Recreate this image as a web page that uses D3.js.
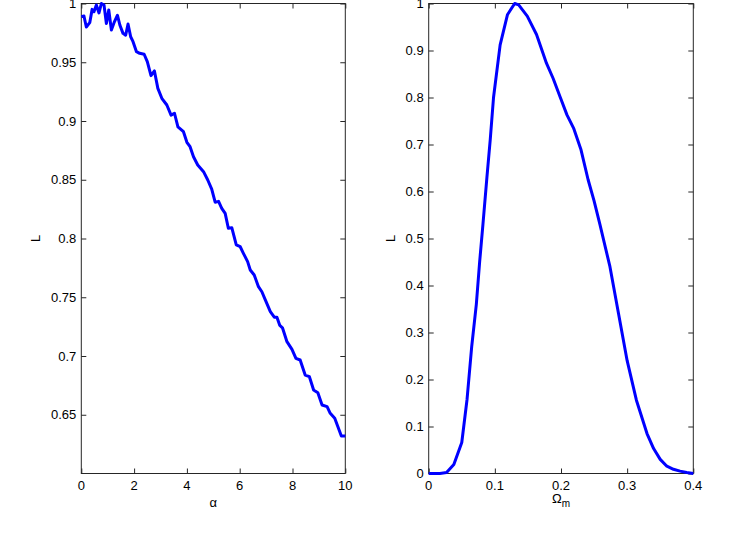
<!DOCTYPE html>
<html>
<head>
<meta charset="utf-8">
<script src="https://cdn.jsdelivr.net/npm/d3@7"></script>
<style>
  body { margin: 0; background: #fff; }
  text { font-family: "Liberation Sans", Arial, sans-serif; }
</style>
</head>
<body>
<div id="chart"></div>
<script>
var width = 748,
    height = 548;

// left panel: L vs alpha
var alphaVals = [0, 0.1, 0.19, 0.32, 0.41, 0.48, 0.57, 0.67, 0.76, 0.86,
  0.95, 1.04, 1.14, 1.24, 1.37, 1.46, 1.58, 1.68, 1.77, 1.87,
  1.96, 2.09, 2.21, 2.38, 2.5, 2.64, 2.77, 2.9, 3.05, 3.24,
  3.4, 3.53, 3.66, 3.87, 4.0, 4.12, 4.25, 4.41, 4.63, 4.79,
  4.94, 5.07, 5.2, 5.32, 5.45, 5.57, 5.7, 5.87, 6.02, 6.14,
  6.3, 6.4, 6.55, 6.71, 6.84, 6.97, 7.16, 7.31, 7.41, 7.52,
  7.62, 7.79, 7.98, 8.13, 8.29, 8.48, 8.64, 8.8, 8.96, 9.12,
  9.31, 9.43, 9.6, 9.72, 9.85, 10];
var alphaL = [0.9888, 0.9894, 0.980, 0.9837, 0.995, 0.993, 0.9987, 0.992, 1.0, 0.9987,
  0.983, 0.9945, 0.9775, 0.9837, 0.990, 0.9817, 0.9746, 0.973, 0.9826, 0.9717,
  0.9675, 0.959, 0.9576, 0.9568, 0.9505, 0.9386, 0.9426, 0.9278, 0.9193, 0.9136,
  0.905, 0.9066, 0.8951, 0.8909, 0.8819, 0.8781, 0.8696, 0.8626, 0.8569, 0.8498,
  0.8420, 0.8309, 0.8316, 0.8257, 0.8214, 0.8087, 0.8092, 0.7945, 0.7930, 0.7874,
  0.7803, 0.7732, 0.7689, 0.759, 0.7547, 0.7477, 0.7377, 0.733, 0.733, 0.7260,
  0.7240, 0.7122, 0.7057, 0.698, 0.6966, 0.6838, 0.6824, 0.6711, 0.6688, 0.6583,
  0.6569, 0.6512, 0.647, 0.6398, 0.6319, 0.6319];
var alphaTicks = [0, 2, 4, 6, 8, 10];
var alphaLTicks = [0.65, 0.7, 0.75, 0.8, 0.85, 0.9, 0.95, 1];

// right panel: L vs Omega_m
var omegaVals = [0, 0.017, 0.027, 0.038, 0.050, 0.058, 0.065, 0.072, 0.077, 0.082,
  0.088, 0.093, 0.098, 0.108, 0.119, 0.130, 0.136, 0.149, 0.163, 0.178,
  0.188, 0.199, 0.209, 0.219, 0.230, 0.241, 0.250, 0.259, 0.274, 0.287,
  0.300, 0.314, 0.330, 0.340, 0.350, 0.360, 0.370, 0.380, 0.390, 0.400];
var omegaL = [0, 0, 0.002, 0.019, 0.066, 0.158, 0.27, 0.36, 0.45, 0.53,
  0.63, 0.71, 0.80, 0.912, 0.976, 1.0, 0.997, 0.973, 0.934, 0.873,
  0.841, 0.80, 0.763, 0.735, 0.69, 0.625, 0.58, 0.529, 0.44, 0.34,
  0.24, 0.156, 0.085, 0.053, 0.03, 0.0155, 0.009, 0.005, 0.002, 0];
var omegaTicks = [0, 0.1, 0.2, 0.3, 0.4];
var omegaLTicks = [0, 0.1, 0.2, 0.3, 0.4, 0.5, 0.6, 0.7, 0.8, 0.9, 1];

var svg = d3.select("#chart").append("svg")
    .attr("width", width)
    .attr("height", height);

var tickLen = 5;

function drawPanel(opts) {
  var x = d3.scaleLinear().domain(opts.xDomain).range([opts.left, opts.right]);
  var y = d3.scaleLinear().domain(opts.yDomain).range([opts.bottom, opts.top]);
  var g = svg.append("g");

  g.append("rect")
      .attr("x", opts.left).attr("y", opts.top)
      .attr("width", opts.right - opts.left)
      .attr("height", opts.bottom - opts.top)
      .attr("fill", "none")
      .attr("stroke", "#262626")
      .attr("stroke-width", 1);

  // inward ticks on all four sides (matlab box style)
  var bottomAx = g.append("g")
      .attr("transform", "translate(0," + opts.bottom + ")")
      .call(d3.axisTop(x).tickValues(opts.xTicks).tickSize(tickLen).tickSizeOuter(0).tickFormat(""));
  var topAx = g.append("g")
      .attr("transform", "translate(0," + opts.top + ")")
      .call(d3.axisBottom(x).tickValues(opts.xTicks).tickSize(tickLen).tickSizeOuter(0).tickFormat(""));
  var leftAx = g.append("g")
      .attr("transform", "translate(" + opts.left + ",0)")
      .call(d3.axisRight(y).tickValues(opts.yTicks).tickSize(tickLen).tickSizeOuter(0).tickFormat(""));
  var rightAx = g.append("g")
      .attr("transform", "translate(" + opts.right + ",0)")
      .call(d3.axisLeft(y).tickValues(opts.yTicks).tickSize(tickLen).tickSizeOuter(0).tickFormat(""));
  [bottomAx, topAx, leftAx, rightAx].forEach(function(a) {
    a.select(".domain").remove();
    a.selectAll("line").attr("stroke", "#262626");
  });

  g.selectAll(".xlab")
      .data(opts.xTicks)
      .enter().append("text")
      .attr("class", "xlab")
      .attr("x", function(d) { return x(d); })
      .attr("y", opts.bottom + 16)
      .attr("text-anchor", "middle")
      .attr("font-size", 13)
      .attr("fill", "#000")
      .text(function(d) { return d; });

  g.selectAll(".ylab")
      .data(opts.yTicks)
      .enter().append("text")
      .attr("class", "ylab")
      .attr("x", opts.left - 5)
      .attr("y", function(d) { return y(d); })
      .attr("dy", "0.35em")
      .attr("text-anchor", "end")
      .attr("font-size", 13)
      .attr("fill", "#000")
      .text(function(d) { return d; });

  g.append("text")
      .attr("transform", "translate(" + opts.yLabelX + "," + ((opts.top + opts.bottom) / 2) + ") rotate(-90)")
      .attr("text-anchor", "middle")
      .attr("font-size", 13)
      .attr("fill", "#000")
      .text("L");

  var line = d3.line()
      .x(function(d) { return x(d[0]); })
      .y(function(d) { return y(d[1]); });

  g.append("path")
      .datum(d3.zip(opts.xs, opts.ys))
      .attr("d", line)
      .attr("fill", "none")
      .attr("stroke", "#0000ff")
      .attr("stroke-width", 3)
      .attr("stroke-linejoin", "round");

  return { g: g, x: x, y: y };
}

var leftP = drawPanel({
  left: 81.3, right: 345.3, top: 3.5, bottom: 473.5,
  xDomain: [0, 10], yDomain: [0.6, 1],
  xTicks: alphaTicks, yTicks: alphaLTicks,
  xs: alphaVals, ys: alphaL,
  yLabelX: 40
});

leftP.g.append("text")
    .attr("x", (81.3 + 345.3) / 2)
    .attr("y", 507)
    .attr("text-anchor", "middle")
    .attr("font-size", 13)
    .attr("fill", "#000")
    .text("α");

var rightP = drawPanel({
  left: 428.7, right: 693.3, top: 3.5, bottom: 473.5,
  xDomain: [0, 0.4], yDomain: [0, 1],
  xTicks: omegaTicks, yTicks: omegaLTicks,
  xs: omegaVals, ys: omegaL,
  yLabelX: 395
});

var omLabel = rightP.g.append("text")
    .attr("x", (428.7 + 693.3) / 2)
    .attr("y", 503)
    .attr("text-anchor", "middle")
    .attr("font-size", 13)
    .attr("fill", "#000");
omLabel.append("tspan").text("Ω");
omLabel.append("tspan").attr("font-size", 10).attr("dy", 4).text("m");
</script>
</body>
</html>
